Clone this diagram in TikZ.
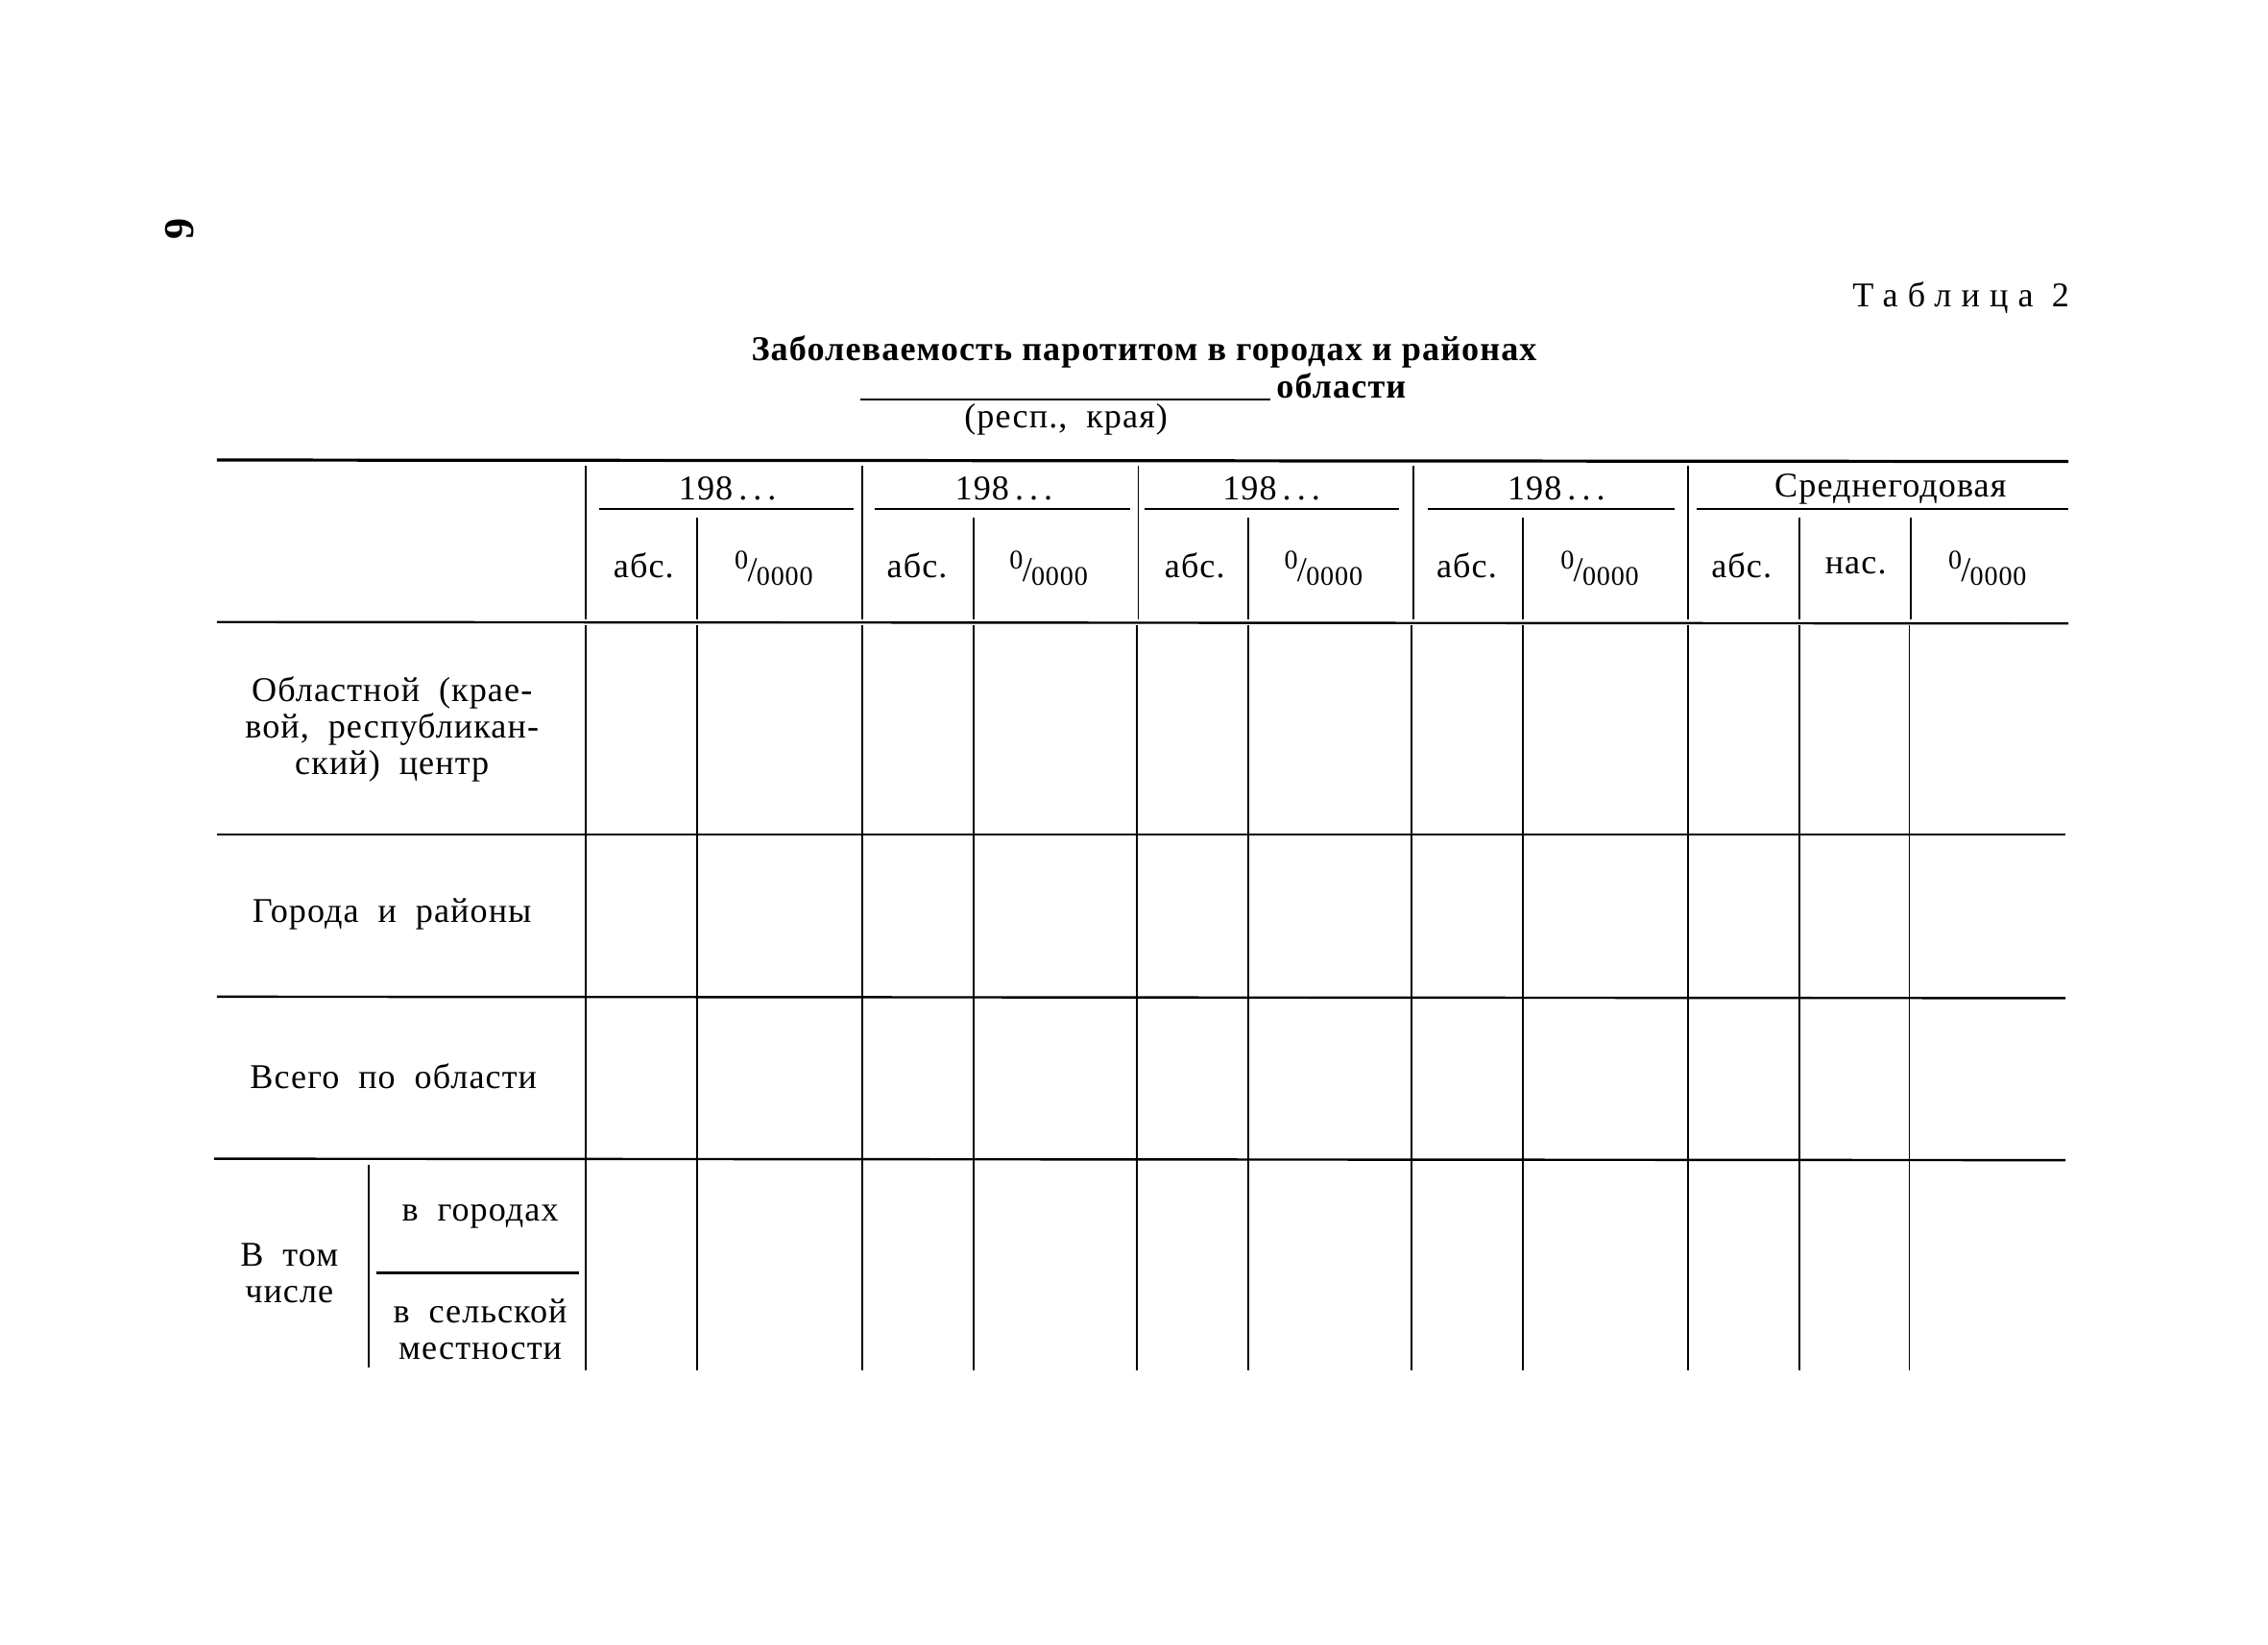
\documentclass[tikz,border=0pt]{standalone}
\usepackage{fontspec}
\setmainfont[LetterSpace=3]{Liberation Serif}
\newfontfamily\spacedfont[LetterSpace=28]{Liberation Serif}
\newcommand\pmyr{\raisebox{0.75ex}{\scriptsize 0}\kern-0.02em/\kern-0.02em\raisebox{-0.25ex}{\scriptsize 0000}}
\newcommand\yrs{198\,.\,.\,.}
\newcommand\wsp{\spaceskip=0.55em plus 0.1em\relax}
\begin{document}
\begin{tikzpicture}[x=0.375pt,y=-0.375pt,
  txt/.style={inner sep=0pt,font=\fontsize{9}{9.5}\selectfont,execute at begin node=\wsp,align=center},
  ttl/.style={inner sep=0pt,font=\fontsize{9}{9}\selectfont\bfseries},
  rulethick/.style={line width=0.8pt},
  rulemid/.style={line width=0.6pt},
  vline/.style={line width=0.45pt}]
\useasboundingbox[fill=white] (0,0) rectangle (1568,1137);
% page number
\node[inner sep=0pt,font=\fontsize{11}{11}\selectfont\bfseries,rotate=90] (pg) at (124,158) {9};
% headings
\node[inner sep=0pt,font=\fontsize{9}{9}\selectfont,anchor=east] (tab) at (1431,206) {\spacedfont Таблица 2};
\node[ttl] (title) at (791,243) {Заболеваемость паротитом в городах и районах};
\coordinate (ulA) at (595,276);
\coordinate (ulB) at (878,276);
\draw[rulemid] (ulA) -- (ulB);
\node[ttl,anchor=west] (obl) at (882,267) {области};
\node[txt] (resp) at (737,290) {(респ., края)};
% horizontal rules
\draw[rulethick] (150,318) -- (1430,319);
\draw[rulemid] (150,430) -- (1430,431);
\draw[rulemid] (150,577) -- (1428,577);
\draw[rulemid] (150,689) -- (1428,690);
\draw[rulemid] (148,801) -- (1428,802);
% year underlines
\foreach \a/\b in {414/590,605/781,791/967,987/1158,1173/1430}
  \draw[rulemid] (\a,352) -- (\b,352);
% header main verticals
\foreach \x in {405,596,787,977,1167}
  \draw[vline] (\x,322) -- (\x,428);
% sub verticals
\foreach \x in {482,673,863,1053,1244,1321}
  \draw[vline] (\x,358) -- (\x,428);
% body verticals
\foreach \x in {405,482,596,673,786,863,976,1053,1167,1244,1320}
  \draw[vline] (\x,432) -- (\x,947);
\draw[vline] (255,805) -- (255,945);
\draw[rulemid] (260,880) -- (400,880);
% header texts
\node[txt] (y1) at (503,338) {\yrs};
\node[txt] (y2) at (694,338) {\yrs};
\node[txt] (y3) at (879,338) {\yrs};
\node[txt] (y4) at (1076,338) {\yrs};
\node[txt] (avg) at (1307,338) {Среднегодовая};
\node[txt] (a1) at (445,391) {абс.};
\node[txt] (p1) at (535,393) {\pmyr};
\node[txt] (a2) at (634,391) {абс.};
\node[txt] (p2) at (725,393) {\pmyr};
\node[txt] (a3) at (826,391) {абс.};
\node[txt] (p3) at (915,393) {\pmyr};
\node[txt] (a4) at (1014,391) {абс.};
\node[txt] (p4) at (1106,393) {\pmyr};
\node[txt] (a5) at (1204,391) {абс.};
\node[txt] (n5) at (1283,391) {нас.};
\node[txt] (p5) at (1374,393) {\pmyr};
% row texts
\node[txt] (r1) at (271,504) {Областной (крае-\\вой, республикан-\\ский) центр};
\node[txt] (r2) at (271,632) {Города и районы};
\node[txt] (r3) at (272,744) {Всего по области};
\node[txt] (r4) at (200,880) {В том\\числе};
\node[txt] (r5) at (332,841) {в городах};
\node[txt] (r6) at (332,919) {в сельской\\местности};
\end{tikzpicture}
\end{document}
